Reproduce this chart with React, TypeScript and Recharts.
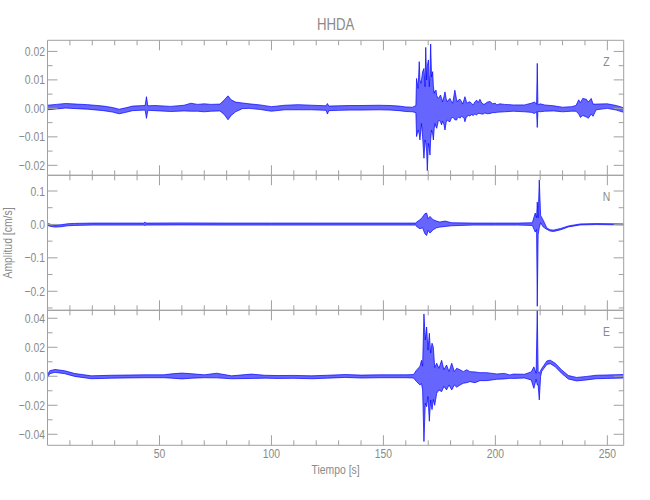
import React from "react";
import { AreaChart, Area, XAxis, YAxis } from "recharts";

const T_MAX = 257.3;
const FRAME = "#a0a0a0";
const INK = "#8a8a8a";
const TRACE = "#0000ff";
const FONT = "'Liberation Sans', Arimo, 'DejaVu Sans', sans-serif";

// time axis (s)
const xTicks = [10, 20, 30, 40, 50, 60, 70, 80, 90, 100, 110, 120, 130, 140, 150, 160, 170, 180, 190, 200, 210, 220, 230, 240, 250];

// trace envelopes: [time s, lowest cm/s, highest cm/s]
const zTrace: [number, number, number][] = [
  [0, -0.0005, 0.0011], [4, -0.0002, 0.0014], [8, 0.0001, 0.0017], [13, -0.0001, 0.0015], [18, -0.0003, 0.0013],
  [25, -0.0008, 0.0008], [29, -0.0013, 0.0003], [32, -0.0019, -0.0003], [35, -0.0014, 0.0002], [38, -0.0008, 0.0008],
  [43.6, -0.0006, 0.001], [44.2, -0.0035, 0.0041], [44.8, -0.0007, 0.0009], [48, -0.0008, 0.001], [55, -0.0011, 0.0007],
  [61, -0.0009, 0.0011], [64, -0.001, 0.0018], [67, -0.001, 0.0014], [70, -0.0012, 0.0016], [73, -0.001, 0.0014],
  [77, -0.0009, 0.0015], [79, -0.0022, 0.003], [80.6, -0.004, 0.0044], [82, -0.0025, 0.003], [84, -0.0012, 0.0022],
  [87, -0.0001, 0.0019], [90, 0, 0.0016], [95, -0.0004, 0.0012], [100, -0.001, 0.0006], [106, -0.0005, 0.0011],
  [112, -0.0005, 0.0013], [118, -0.0005, 0.0011], [124.4, -0.0007, 0.0009], [125, -0.002, 0.0017], [125.6, -0.0008, 0.0008],
  [130, -0.0007, 0.0009], [135, -0.0006, 0.001], [140, -0.0006, 0.001], [148, -0.0005, 0.0011], [153, -0.0006, 0.001],
  [157, -0.0008, 0.0008], [160, -0.0011, 0.0005], [163, -0.0012, 0.0004], [164.5, -0.0015, 0.001],
  [164.8, -0.0099, 0.0105], [165.5, -0.0076, 0.007], [166.0, -0.009, 0.0164], [166.3, -0.0111, 0.01], [166.8, -0.007, 0.0088],
  [167.0, -0.0053, 0.01], [167.5, -0.01, 0.0129], [168.1, -0.0175, 0.014], [168.6, -0.0111, 0.0076], [168.9, -0.012, 0.0214],
  [169.3, -0.015, 0.01], [169.6, -0.0219, 0.015], [170.1, -0.0123, 0.017], [170.5, -0.014, 0.0076], [170.8, -0.0164, 0.012],
  [171.1, -0.011, 0.0226], [171.5, -0.0076, 0.011], [172.0, -0.009, 0.0129], [172.3, -0.0111, 0.008], [172.7, -0.007, 0.0053],
  [173.0, -0.0053, 0.006], [173.5, -0.0065, 0.0064], [173.8, -0.007, 0.0045], [174.5, -0.0045, 0.0035], [175.0, -0.0041, 0.004],
  [175.5, -0.0048, 0.0047], [176.0, -0.0058, 0.0035], [176.4, -0.0045, 0.0023], [177.0, -0.0055, 0.004], [177.5, -0.0076, 0.0058],
  [178.0, -0.005, 0.0035], [178.5, -0.0041, 0.0023], [179.1, -0.0045, 0.003], [179.7, -0.0047, 0.0035], [180.3, -0.0035, 0.0025],
  [180.9, -0.0032, 0.0018], [181.2, -0.0032, 0.003], [181.9, -0.004, 0.0064], [182.7, -0.0041, 0.003], [183.0, -0.0035, 0.0023],
  [183.6, -0.003, 0.003], [184.2, -0.0035, 0.0032], [184.8, -0.0028, 0.0025], [185.4, -0.003, 0.0015], [186.0, -0.0035, 0.003],
  [186.4, -0.0047, 0.0041], [187.0, -0.003, 0.0025], [187.5, -0.0028, 0.0018], [188.0, -0.0025, 0.0022], [188.6, -0.0027, 0.0023],
  [189.3, -0.0022, 0.0018], [190.1, -0.0025, 0.0012], [190.8, -0.002, 0.0022], [191.6, -0.0023, 0.0029], [192.3, -0.0018, 0.002],
  [193.1, -0.0018, 0.0032], [194.0, -0.002, 0.0018], [194.6, -0.002, 0.0015], [195.3, -0.0016, 0.0015], [196.4, -0.0019, 0.0022],
  [197.6, -0.0018, 0.0024], [198.8, -0.0015, 0.0016], [200.0, -0.0015, 0.0018], [200.6, -0.0014, 0.0012], [202, -0.0013, 0.0016],
  [204, -0.0012, 0.0014], [208, -0.001, 0.0012], [213, -0.0012, 0.0012], [216, -0.0014, 0.0018], [217.5, -0.0018, 0.0022],
  [218.4, -0.0012, 0.0015], [218.7, -0.0067, 0.0158], [219, -0.001, 0.0012], [220, -0.0012, 0.0016], [222, -0.001, 0.0012],
  [226, -0.0009, 0.0009], [230, -0.0012, 0.0004], [234, -0.001, 0.0006], [236, -0.001, 0.001], [237.2, -0.002, 0.003],
  [238.0, -0.0032, 0.002], [239, -0.0025, 0.0035], [240.6, -0.003, 0.0032], [241.5, -0.0035, 0.0022], [242.8, -0.002, 0.0035],
  [243.6, -0.0028, 0.0015], [245, -0.0005, 0.0015], [250, 0, 0.0016], [254, -0.0006, 0.001], [257.3, -0.0014, 0.0002],
];
const zTicks = [-0.02, -0.015, -0.01, -0.005, 0, 0.005, 0.01, 0.015, 0.02];

const nTrace: [number, number, number][] = [
  [0, -0.003, 0.003], [1.5, -0.006, 0], [3.3, -0.008, -0.002], [6, -0.007, -0.001], [9, -0.004, 0.002], [12, -0.003, 0.003],
  [20, -0.002, 0.004], [30, -0.002, 0.004], [43, -0.002, 0.004], [43.5, -0.003, 0.007], [44, -0.002, 0.004], [60, -0.0015, 0.0045],
  [80, -0.002, 0.004], [100, -0.002, 0.004], [120, -0.002, 0.004], [140, -0.002, 0.004], [160, -0.002, 0.004], [164.5, -0.002, 0.004],
  [164.8, -0.006, 0.007], [166.3, -0.013, 0.014], [167.5, -0.01, 0.022], [168.5, -0.028, 0.032], [169.3, -0.033, 0.034],
  [170.0, -0.018, 0.017], [170.8, -0.026, 0.024], [172.2, -0.016, 0.014], [173.7, -0.01, 0.01], [175.2, -0.008, 0.007],
  [177.5, -0.006, 0.01], [180.5, -0.004, 0.005], [190, -0.002, 0.004], [200, -0.002, 0.004], [210, -0.002, 0.004],
  [216.5, -0.003, 0.005], [217.8, -0.023, 0.034], [218.4, -0.015, 0.02], [218.7, -0.245, 0.067], [219.1, -0.03, 0.02],
  [219.6, -0.01, 0.133], [220.2, 0.005, 0.027], [221.4, -0.008, 0.012], [223, -0.015, -0.011], [224.5, -0.02, -0.016],
  [226, -0.021, -0.017], [229.2, -0.016, -0.012], [232.6, -0.0075, -0.0045], [238, -0.0015, 0.0015], [245.3, -0.0005, 0.0025],
  [257.3, -0.0015, 0.0015],
];
const nTicks = [-0.25, -0.2, -0.15, -0.1, -0.05, 0, 0.05, 0.1];

const eTrace: [number, number, number][] = [
  [0, -0.001, 0.001], [1, 0.0018, 0.0038], [3.3, 0.0027, 0.0047], [7.7, 0.0018, 0.0038], [12.2, -0.0001, 0.0019],
  [19.6, -0.0017, 0.0003], [28.6, -0.0013, 0.0007], [43.5, -0.001, 0.001], [52, -0.001, 0.001], [55.6, -0.0013, 0.0017],
  [60, -0.0018, 0.0022], [64.5, -0.0013, 0.0017], [70, -0.001, 0.001], [75.5, -0.0011, 0.0021], [82.2, -0.0017, 0.0003],
  [91, -0.0015, 0.0015], [97, -0.0013, 0.0007], [103, -0.0015, 0.0005], [110, -0.0014, 0.0006], [118, -0.0017, 0.0003],
  [125, -0.0013, 0.0007], [133, -0.0008, 0.0012], [140, -0.0012, 0.0008], [148.5, -0.001, 0.001], [155, -0.001, 0.001],
  [160, -0.001, 0.001], [163.5, -0.0012, 0.0012], [164.8, -0.0037, 0.0044], [166.3, -0.006, 0.0067], [167.0, -0.005, 0.011],
  [167.5, -0.0094, 0.007], [168.1, -0.045, 0.043], [168.7, -0.0186, 0.025], [169.3, -0.021, 0.034], [169.9, -0.014, 0.018],
  [170.5, -0.031, 0.0297], [171.1, -0.0163, 0.016], [171.7, -0.023, 0.0228], [172.3, -0.016, 0.02], [172.9, -0.02, 0.006],
  [173.8, -0.0117, 0.009], [174.8, -0.0094, 0.0055], [176.0, -0.0106, 0.011], [177.0, -0.007, 0.0045], [178.2, -0.0094, 0.0078],
  [179.3, -0.006, 0.0032], [180.5, -0.0094, 0.009], [181.7, -0.006, 0.0032], [182.7, -0.0075, 0.0055], [184.2, -0.006, 0.0045],
  [185.7, -0.0048, 0.0032], [187.2, -0.0044, 0.0045], [188.6, -0.0037, 0.0032], [190.9, -0.0044, 0.003], [193.1, -0.003, 0.0025],
  [196.1, -0.003, 0.0025], [200.6, -0.0021, 0.0016], [204, -0.0018, 0.002], [206.5, -0.0014, 0.0009], [208, -0.0015, 0.0015],
  [213, -0.0012, 0.0014], [216, -0.0025, 0.003], [217.2, -0.0083, 0.0065], [218.2, -0.002, 0.002], [218.7, -0.006, 0.046],
  [219.1, -0.006, 0.003], [219.6, -0.0163, 0.002], [220.2, 0, 0.004], [220.7, 0.0034, 0.0054], [223, 0.0082, 0.0106],
  [224.5, 0.0087, 0.0111], [226.7, 0.0066, 0.009], [229.6, 0.002, 0.0044], [232.6, -0.0019, 0.0005], [236.3, -0.0032, -0.0008],
  [240.8, -0.0025, -0.0001], [245, -0.0017, 0.0007], [249.7, -0.0015, 0.0009], [257.3, -0.0012, 0.0012],
];
const eTicks = [-0.04, -0.03, -0.02, -0.01, 0, 0.01, 0.02, 0.03, 0.04];

type PanelProps = {
  trace: [number, number, number][];
  ticks: number[];
  domain: [number, number];
  major: number;
  digits: number;
  top: number;
  bottom: number;
  showTime: boolean;
};

const isMajor = (v: number, step: number) => Math.abs(v / step - Math.round(v / step)) < 1e-6;

const fmt = (v: number, digits: number) => {
  const s = Math.abs(v) < 1e-9 ? (0).toFixed(digits) : v.toFixed(digits);
  return s.replace("-", "\u2212");
};

// IDL-like narrow lettering
const SText = ({ x, y, anchor = "middle", size = 13, rotate = 0, children }: any) => (
  <text
    transform={`translate(${x},${y}) rotate(${rotate}) scale(0.8,1)`}
    textAnchor={anchor}
    fontFamily={FONT}
    fontSize={size}
    fill={INK}
  >
    {children}
  </text>
);

const Panel: React.FC<PanelProps> = ({ trace, ticks, domain, major, digits, top, bottom, showTime }) => {
  const data = trace.map(([t, lo, hi]) => ({ t, v: [lo, hi] }));

  const bottomTick = (p: any) => {
    const big = p.payload.value % 50 === 0;
    return (
      <g>
        <line x1={p.x} x2={p.x} y1={p.y} y2={p.y - (big ? 10 : 5)} stroke={FRAME} />
        {showTime && big && <SText x={p.x} y={p.y + 13}>{p.payload.value}</SText>}
      </g>
    );
  };
  const topTick = (p: any) => {
    const big = p.payload.value % 50 === 0;
    return <line x1={p.x} x2={p.x} y1={p.y} y2={p.y + (big ? 10 : 5)} stroke={FRAME} />;
  };
  const leftTick = (p: any) => {
    const big = isMajor(p.payload.value, major);
    return (
      <g>
        <line x1={p.x} x2={p.x + (big ? 10 : 5)} y1={p.y} y2={p.y} stroke={FRAME} />
        {big && (
          <SText x={p.x - 2.5} y={p.y + 4.6} anchor="end">
            {fmt(p.payload.value, digits)}
          </SText>
        )}
      </g>
    );
  };
  const rightTick = (p: any) => {
    const big = isMajor(p.payload.value, major);
    return <line x1={p.x} x2={p.x - (big ? 10 : 5)} y1={p.y} y2={p.y} stroke={FRAME} />;
  };

  return (
    <div style={{ position: "absolute", left: 0, top: 0 }}>
      <AreaChart width={650} height={500} data={data} margin={{ top: 0, right: 0, bottom: 0, left: 0 }}>
        <XAxis
          xAxisId="b"
          dataKey="t"
          type="number"
          domain={[0, T_MAX]}
          allowDataOverflow
          ticks={xTicks}
          interval={0}
          height={500 - bottom}
          tickSize={0}
          tickMargin={0}
          tickLine={false}
          axisLine={{ stroke: FRAME }}
          tick={bottomTick}
        />
        <XAxis
          xAxisId="t"
          orientation="top"
          dataKey="t"
          type="number"
          domain={[0, T_MAX]}
          allowDataOverflow
          ticks={xTicks}
          interval={0}
          height={top}
          tickSize={0}
          tickMargin={0}
          tickLine={false}
          axisLine={{ stroke: FRAME }}
          tick={topTick}
        />
        <YAxis
          yAxisId="l"
          type="number"
          domain={domain}
          allowDataOverflow
          ticks={ticks}
          interval={0}
          width={47.5}
          tickSize={0}
          tickMargin={0}
          tickLine={false}
          axisLine={{ stroke: FRAME }}
          tick={leftTick}
        />
        <YAxis
          yAxisId="r"
          orientation="right"
          type="number"
          domain={domain}
          allowDataOverflow
          ticks={ticks}
          interval={0}
          width={26.3}
          tickSize={0}
          tickMargin={0}
          tickLine={false}
          axisLine={{ stroke: FRAME }}
          tick={rightTick}
        />
        <Area
          xAxisId="b"
          yAxisId="l"
          type="linear"
          dataKey="v"
          stroke={TRACE}
          strokeWidth={0.7}
          fill={TRACE}
          fillOpacity={0.6}
          dot={false}
          activeDot={false}
          isAnimationActive={false}
        />
      </AreaChart>
    </div>
  );
};

export default function App() {
  return (
    <div style={{ position: "fixed", left: 0, top: 0, width: 650, height: 500, background: "#fff" }}>
      <Panel trace={zTrace} ticks={zTicks} domain={[-0.0235, 0.0239]} major={0.01} digits={2} top={40.3} bottom={175.3} showTime={false} />
      <Panel trace={nTrace} ticks={nTicks} domain={[-0.257, 0.147]} major={0.1} digits={1} top={175.3} bottom={310.3} showTime={false} />
      <Panel trace={eTrace} ticks={eTicks} domain={[-0.0476, 0.0455]} major={0.02} digits={2} top={310.3} bottom={445.3} showTime={true} />
      <svg width={650} height={500} style={{ position: "absolute", left: 0, top: 0, pointerEvents: "none" }}>
        <SText x={335.6} y={30} size={16.5}>HHDA</SText>
        <SText x={335.6} y={474}>Tiempo [s]</SText>
        <SText x={12} y={243} rotate={-90}>Amplitud [cm/s]</SText>
        <SText x={606.5} y={65.5}>Z</SText>
        <SText x={606.5} y={200.5}>N</SText>
        <SText x={606.5} y={336}>E</SText>
      </svg>
    </div>
  );
}
